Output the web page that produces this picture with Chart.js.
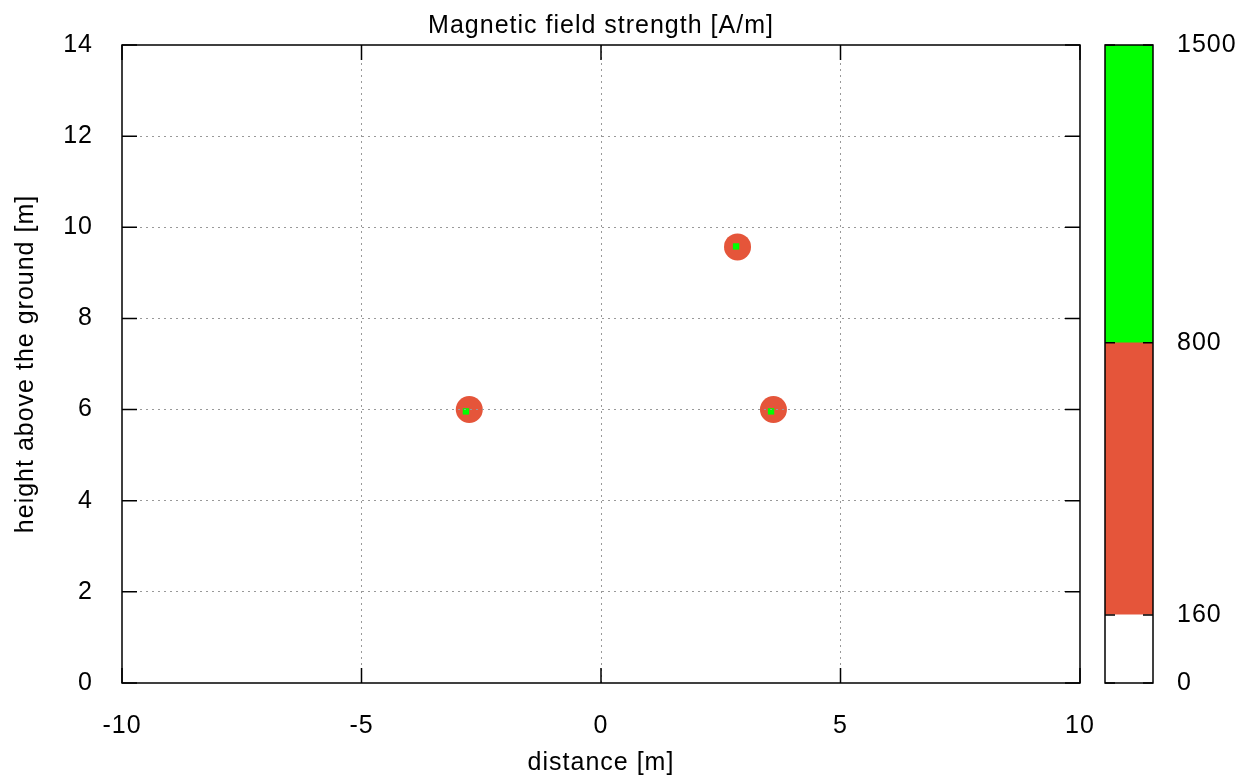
<!DOCTYPE html>
<html><head><meta charset="utf-8">
<script src="https://cdn.jsdelivr.net/npm/chart.js@4.4.1/dist/chart.umd.min.js"></script>
<style>
html,body{margin:0;padding:0;background:#fff;overflow:hidden}
#wrap{position:relative;width:1250px;height:779px}
#main{position:absolute;left:0;top:0}
#cb{position:absolute;left:1090px;top:0}
</style></head><body>
<div id="wrap"><canvas id="main" width="1250" height="779"></canvas><canvas id="cb" width="160" height="779"></canvas></div>
<script>
// ---- data ----
const xTicks = [-10, -5, 0, 5, 10];
const yTicks = [0, 2, 4, 6, 8, 10, 12, 14];
// regions with 160..800 A/m (red)
const blobX = [-2.75, 3.6, 2.85];
const blobY = [6.0, 6.0, 9.57];
// regions above 800 A/m (green cores)
const coreX = [-2.82, 3.55, 2.82];
const coreY = [5.96, 5.96, 9.58];
// colour bar levels
const levels = [0, 160, 800, 1500];
const levelColors = ['#ffffff', '#e5553a', '#00ff00'];

const FONT = "'Liberation Sans', Arial, sans-serif";
Chart.defaults.font.family = FONT;
Chart.defaults.font.size = 25;
Chart.defaults.color = '#000';

const spacing = {
  id: 'spacing',
  beforeDraw(chart) { chart.ctx.letterSpacing = '1px'; }
};

function isEdge(scale, v) { return v === scale.min || v === scale.max; }

const frameMain = {
  id: 'frameMain',
  afterDraw(chart) {
    const {ctx, chartArea: a} = chart;
    const xs = chart.scales.x, ys = chart.scales.y;
    ctx.save();
    ctx.strokeStyle = '#000';
    ctx.lineWidth = 1.5;
    ctx.setLineDash([]);
    ctx.strokeRect(a.left, a.top, a.right - a.left, a.bottom - a.top);
    const L = 15;
    ctx.beginPath();
    xs.ticks.forEach(t => {
      const p = xs.getPixelForValue(t.value);
      ctx.moveTo(p, a.bottom); ctx.lineTo(p, a.bottom - L);
      ctx.moveTo(p, a.top); ctx.lineTo(p, a.top + L);
    });
    ys.ticks.forEach(t => {
      const p = ys.getPixelForValue(t.value);
      ctx.moveTo(a.left, p); ctx.lineTo(a.left + L, p);
      ctx.moveTo(a.right, p); ctx.lineTo(a.right - L, p);
    });
    ctx.stroke();
    ctx.restore();
  }
};

new Chart(document.getElementById('main'), {
  type: 'scatter',
  data: {
    datasets: [
      {
        label: '800-1500',
        data: coreX.map((x, i) => ({x, y: coreY[i]})),
        backgroundColor: levelColors[2], borderWidth: 0,
        pointStyle: 'rect', pointRadius: 4.5, pointHoverRadius: 4.5
      },
      {
        label: '160-800',
        data: blobX.map((x, i) => ({x, y: blobY[i]})),
        backgroundColor: levelColors[1], borderWidth: 0,
        pointStyle: 'circle', pointRadius: 13.5, pointHoverRadius: 13.5
      }
    ]
  },
  options: {
    responsive: false, animation: false, devicePixelRatio: 1,
    layout: {padding: {left: 0, right: 170, top: 0, bottom: 0}},
    plugins: {
      legend: {display: false}, tooltip: {enabled: false},
      title: {
        display: true, text: 'Magnetic field strength [A/m]', fullSize: false,
        color: '#000', font: {size: 25, weight: 'normal', lineHeight: '28px'},
        padding: {top: 12, bottom: 5}
      }
    },
    scales: {
      x: {
        type: 'linear', min: -10, max: 10,
        afterBuildTicks: s => { s.ticks = xTicks.map(v => ({value: v})); },
        afterFit: s => { s.height = 96; },
        ticks: {padding: 28, maxRotation: 0, autoSkip: false, color: '#000'},
        grid: {drawTicks: false, z: 1, lineWidth: 1,
               color: c => (c.tick && isEdge(c.scale, c.tick.value)) ? 'rgba(0,0,0,0)' : '#999999'},
        border: {display: false, dash: [2, 4]},
        title: {display: true, text: 'distance [m]', color: '#000', padding: {top: 0, bottom: 1}}
      },
      y: {
        type: 'linear', min: 0, max: 14,
        afterBuildTicks: s => { s.ticks = yTicks.map(v => ({value: v})); },
        afterFit: s => { s.width = 122; },
        ticks: {padding: 29, autoSkip: false, color: '#000'},
        grid: {drawTicks: false, z: 1, lineWidth: 1,
               color: c => (c.tick && isEdge(c.scale, c.tick.value)) ? 'rgba(0,0,0,0)' : '#999999'},
        border: {display: false, dash: [2, 4]},
        title: {display: true, text: 'height above the ground [m]', color: '#000', padding: {top: 11, bottom: 0}}
      }
    }
  },
  plugins: [spacing, frameMain]
});

const frameCb = {
  id: 'frameCb',
  afterDraw(chart) {
    const {ctx, chartArea: a} = chart;
    const ys = chart.scales.y;
    ctx.save();
    ctx.strokeStyle = '#000';
    ctx.lineWidth = 1.5;
    ctx.strokeRect(a.left, a.top, a.right - a.left, a.bottom - a.top);
    const L = 10;
    ctx.beginPath();
    ys.ticks.forEach(t => {
      const p = ys.getPixelForValue(t.value);
      ctx.moveTo(a.left, p); ctx.lineTo(a.left + L, p);
      ctx.moveTo(a.right, p); ctx.lineTo(a.right - L, p);
    });
    ctx.stroke();
    ctx.restore();
  }
};

new Chart(document.getElementById('cb'), {
  type: 'bar',
  data: {
    labels: ['A/m'],
    datasets: levelColors.map((c, i) => ({
      label: levels[i] + '-' + levels[i + 1],
      data: [[levels[i], levels[i + 1]]],
      backgroundColor: c, borderWidth: 0,
      barPercentage: 1, categoryPercentage: 1, grouped: false
    }))
  },
  options: {
    responsive: false, animation: false, devicePixelRatio: 1,
    layout: {padding: {left: 15, right: 0, top: 45, bottom: 96}},
    plugins: {legend: {display: false}, tooltip: {enabled: false}},
    scales: {
      x: {display: false},
      y: {
        position: 'right', min: 0, max: 1500,
        afterBuildTicks: s => { s.ticks = levels.map(v => ({value: v})); },
        afterFit: s => { s.width = 97; },
        ticks: {padding: 24, autoSkip: false, color: '#000', callback: v => String(v)},
        grid: {display: false, drawTicks: false},
        border: {display: false}
      }
    }
  },
  plugins: [spacing, frameCb]
});
</script>
</body></html>
